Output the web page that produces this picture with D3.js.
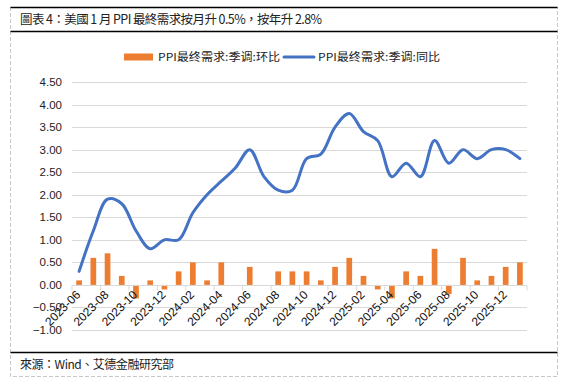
<!DOCTYPE html>
<html>
<head>
<meta charset="utf-8">
<script src="https://cdnjs.cloudflare.com/ajax/libs/d3/7.8.5/d3.min.js"></script>
<style>
  body { margin: 0; background: #fff; }
  svg { display: block; }
</style>
</head>
<body>
<div id="chart"></div>
<script>
// monthly categories 2023-06 .. 2026-01
var months = ['2023-06','2023-07','2023-08','2023-09','2023-10','2023-11','2023-12',
  '2024-01','2024-02','2024-03','2024-04','2024-05','2024-06','2024-07','2024-08','2024-09',
  '2024-10','2024-11','2024-12','2025-01','2025-02','2025-03','2025-04','2025-05','2025-06',
  '2025-07','2025-08','2025-09','2025-10','2025-11','2025-12','2026-01'];

// PPI final demand, SA, MoM (bars)
var momValues = [0.1, 0.6, 0.7, 0.2, -0.3, 0.1, -0.1,
  0.3, 0.5, 0.1, 0.5, 0.0, 0.4, 0.0, 0.3, 0.3,
  0.3, 0.1, 0.4, 0.6, 0.2, -0.1, -0.3, 0.3, 0.2,
  0.8, -0.2, 0.6, 0.1, 0.2, 0.4, 0.5];

// PPI final demand, SA, YoY (line)
var yoyValues = [0.3, 1.2, 1.9, 1.8, 1.2, 0.8, 1.0,
  1.0, 1.6, 2.0, 2.3, 2.6, 3.0, 2.4, 2.1, 2.1,
  2.8, 2.9, 3.5, 3.8, 3.4, 3.2, 2.4, 2.7, 2.4,
  3.2, 2.7, 3.0, 2.8, 3.0, 3.0, 2.8];

var yTicks = [-1.0, -0.5, 0, 0.5, 1.0, 1.5, 2.0, 2.5, 3.0, 3.5, 4.0, 4.5];
var barName = 'PPI最终需求:季调:环比';
var lineName = 'PPI最终需求:季调:同比';
var title = '圖表 4：美國 1 月 PPI 最終需求按月升 0.5%，按年升 2.8%';
var source = '來源：Wind、艾德金融研究部';

var width = 567, height = 385;
var svg = d3.select('#chart').append('svg').attr('width', width).attr('height', height);

var serif = '"Noto Sans CJK TC", "Noto Sans CJK SC", sans-serif';
var sans = '"Noto Sans CJK SC", "Liberation Sans", sans-serif';

// frame: dashed sides + black rules
var frame = svg.append('g');
frame.append('path')
  .attr('d', 'M10.5,7 V376.5 H557.5 V7')
  .attr('fill', 'none').attr('stroke', '#c8c8c8').attr('stroke-dasharray', '4,2');
[7.5, 31.5, 352.5].forEach(function (y) {
  frame.append('line').attr('x1', 10.5).attr('x2', 557.5).attr('y1', y).attr('y2', y)
    .attr('stroke', '#000').attr('stroke-width', 1.3);
});

svg.append('text').attr('x', 20).attr('y', 24)
  .attr('textLength', 302).attr('lengthAdjust', 'spacing')
  .style('font-family', serif).style('font-size', '12.5px').style('fill', '#222')
  .text(title);

svg.append('text').attr('x', 20).attr('y', 369)
  .attr('textLength', 154).attr('lengthAdjust', 'spacing')
  .style('font-family', serif).style('font-size', '12px').style('fill', '#222')
  .text(source);

// scales
var x = d3.scaleBand().domain(months).range([72, 527]).paddingInner(0.6).paddingOuter(0.3);
var y = d3.scaleLinear().domain([-1, 4.5]).range([330, 82]);
var cx = function (d) { return x(d) + x.bandwidth() / 2; };

// gridlines
svg.append('g').selectAll('line').data(yTicks).enter().append('line')
  .attr('x1', 72).attr('x2', 527)
  .attr('y1', function (d) { return Math.round(y(d)) + 0.5; })
  .attr('y2', function (d) { return Math.round(y(d)) + 0.5; })
  .attr('stroke', '#d9d9d9').attr('stroke-width', 1);

// y labels
svg.append('g').selectAll('text').data(yTicks).enter().append('text')
  .attr('x', 62).attr('y', function (d) { return y(d) + 4; })
  .attr('text-anchor', 'end')
  .style('font-family', '"Liberation Sans", Arial, sans-serif').style('font-size', '11.5px').style('fill', '#222')
  .text(function (d) { return d3.format('.2f')(d); });

// bars
svg.append('g').selectAll('rect').data(momValues).enter().append('rect')
  .attr('x', function (d, i) { return x(months[i]); })
  .attr('width', x.bandwidth())
  .attr('y', function (d) { return y(Math.max(0, d)); })
  .attr('height', function (d) { return Math.abs(y(d) - y(0)); })
  .attr('fill', '#ED7D31');

// x axis line + ticks every 2 months
var zeroY = Math.round(y(0)) + 0.5;
var axis = svg.append('g');
axis.append('line').attr('x1', 72).attr('x2', 527).attr('y1', zeroY).attr('y2', zeroY)
  .attr('stroke', '#d9d9d9');
var step = x.step();
var tickPos = d3.range(0, months.length + 1, 2).map(function (i) { return 72 + i * step; });
axis.selectAll('line.tick').data(tickPos).enter().append('line')
  .attr('class', 'tick')
  .attr('x1', function (d) { return d; }).attr('x2', function (d) { return d; })
  .attr('y1', zeroY).attr('y2', zeroY + 5)
  .attr('stroke', '#d9d9d9');

// labels on the axis, rotated (white halo keeps them on top of y labels like the original)
var labelled = months.filter(function (d, i) { return i % 2 === 0 && i < 31; });
axis.selectAll('text').data(labelled).enter().append('text')
  .attr('transform', function (d) { return 'translate(' + (cx(d) + 2) + ',' + (zeroY + 10) + ') rotate(-45)'; })
  .attr('text-anchor', 'end')
  .style('font-family', '"Liberation Sans", Arial, sans-serif').style('font-size', '12px').style('fill', '#111')
  .text(function (d) { return d; });

// YoY line
var line = d3.line()
  .x(function (d, i) { return cx(months[i]); })
  .y(function (d) { return y(d); })
  .curve(d3.curveCatmullRom.alpha(0.5));
svg.append('path').datum(yoyValues)
  .attr('d', line)
  .attr('fill', 'none').attr('stroke', '#4472C4').attr('stroke-width', 3)
  .attr('stroke-linejoin', 'round').attr('stroke-linecap', 'round');

// legend
var legend = svg.append('g').style('font-family', sans).style('font-size', '11px').style('fill', '#222');
legend.append('rect').attr('x', 124).attr('y', 53.5).attr('width', 29).attr('height', 7).attr('fill', '#ED7D31');
legend.append('text').attr('x', 158).attr('y', 61).attr('textLength', 122).attr('lengthAdjust', 'spacingAndGlyphs').text(barName);
legend.append('line').attr('x1', 284).attr('x2', 314).attr('y1', 57).attr('y2', 57)
  .attr('stroke', '#4472C4').attr('stroke-width', 3).attr('stroke-linecap', 'round');
legend.append('text').attr('x', 318).attr('y', 61).attr('textLength', 122).attr('lengthAdjust', 'spacingAndGlyphs').text(lineName);
</script>
</body>
</html>
